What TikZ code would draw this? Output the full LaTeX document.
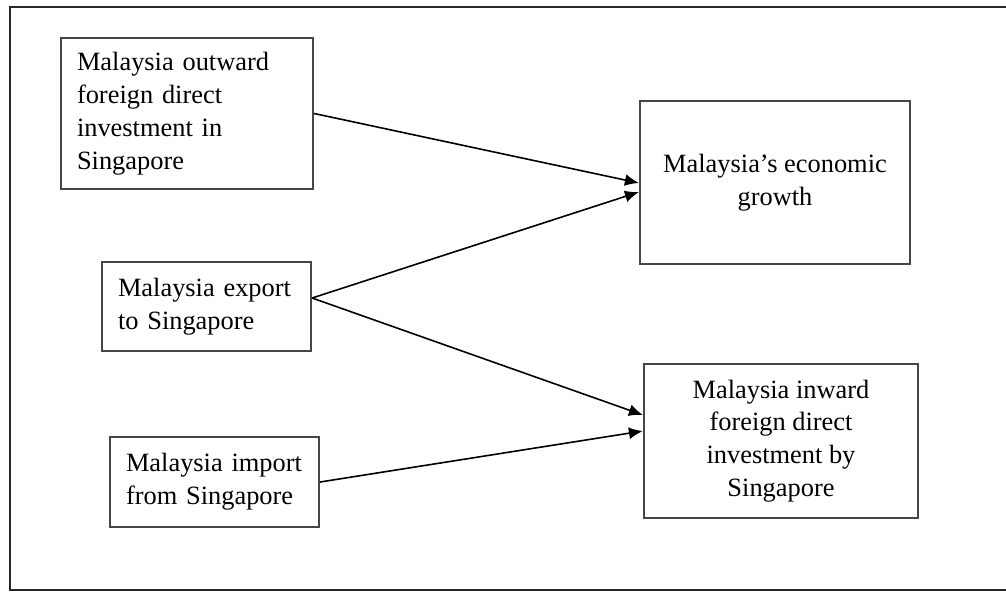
\documentclass[tikz,border=0pt]{standalone}
\usepackage{fontspec}
\setmainfont{Liberation Serif}
\usetikzlibrary{arrows.meta}
\usetikzlibrary{calc}
\definecolor{frame1}{RGB}{40, 40, 40}
\definecolor{box1}{RGB}{70, 70, 70}

\begin{document}
\begin{tikzpicture}[x=0.5pt, y=-0.5pt, line width=0.8pt, >={Latex[length=7pt,width=6pt]},
  varbox/.style={draw=box1, line width=1.1pt, inner xsep=8pt, inner ysep=0pt,
    font=\fontsize{13.2}{16.4}\selectfont}]
  \useasboundingbox (0,0) rectangle (1006,595);
  % outer frame (right side is cut off)
  \draw[frame1, line width=1.1pt] (1006,7) -- (10,7) -- (10,590) -- (1006,590);
  \node[varbox, align=left, minimum width=126pt, minimum height=75.5pt, text width=110pt] (ofdi) at (187,113.5)
    {Malaysia outward\\ foreign direct\\ investment in\\ Singapore};
  \node[varbox, align=left, minimum width=104.5pt, minimum height=44.5pt, text width=88.5pt] (export) at (206.5,306.5)
    {Malaysia export\\ to Singapore};
  \node[varbox, align=left, minimum width=104.5pt, minimum height=45pt, text width=88.5pt] (import) at (214.5,482)
    {Malaysia import\\ from Singapore};
  \node[varbox, align=center, minimum width=135pt, minimum height=81.5pt] (growth) at (775,182.5)
    {Malaysia's economic\\ growth};
  \node[varbox, align=center, minimum width=137pt, minimum height=77pt] (ifdi) at (781,441)
    {Malaysia inward\\ foreign direct\\ investment by\\ Singapore};
  \coordinate (exp) at ($(export.east)+(0,-8.5)$);
  \draw[->] (ofdi.east) -- ($(growth.west)+(0,0.5)$);
  \draw[->] (exp) -- ($(growth.west)+(0,9.5)$);
  \draw[->] (exp) -- ($(ifdi.west)+(0,-26)$);
  \draw[->] (import.east) -- ($(ifdi.west)+(0,-10)$);
\end{tikzpicture}
\end{document}
